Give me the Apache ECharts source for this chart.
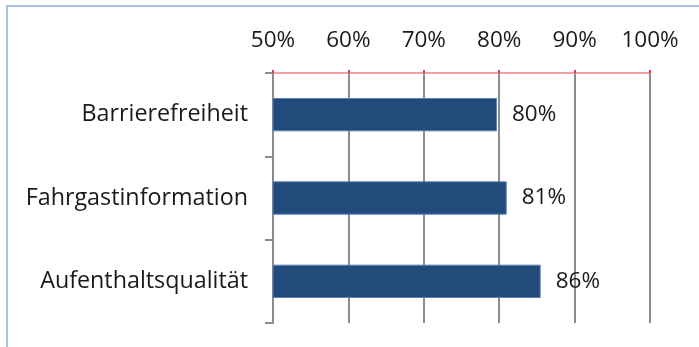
<!DOCTYPE html>
<html><head><meta charset="utf-8">
<script src="https://cdn.jsdelivr.net/npm/echarts@6/dist/echarts.min.js"></script>
<style>html,body{margin:0;padding:0;background:#fff}#c{width:699px;height:347px}</style>
</head><body><div id="c"></div>
<script>
const categories = ['Barrierefreiheit', 'Fahrgastinformation', 'Aufenthaltsqualität'];
const values = [79.7, 81.0, 85.5];
const valueLabels = ['80%', '81%', '86%'];
const xTicks = [50, 60, 70, 80, 90, 100];

const FONT = 'Open Sans';
const chart = echarts.init(document.getElementById('c'));
chart.setOption({
  animation: false,
  backgroundColor: '#fff',
  graphic: [{
    type: 'rect', silent: true,
    shape: { x: 7, y: 6, width: 760, height: 400 },
    style: { fill: 'none', stroke: '#a7bee6', lineWidth: 2 }
  }],
  grid: { left: 273, right: 49, top: 73, bottom: 24 },
  xAxis: {
    type: 'value', position: 'top',
    min: xTicks[0], max: xTicks[xTicks.length - 1], interval: 10,
    axisLine: { show: true, lineStyle: { color: '#e8848c', width: 1.5 } },
    axisTick: { show: true, length: 3, lineStyle: { color: '#ee3344', width: 2 } },
    axisLabel: { formatter: '{value}%', fontFamily: FONT, fontSize: 22.5, color: '#1a1a1a', margin: 21 },
    splitLine: { show: true, lineStyle: { color: '#8c8c8c', width: 2 } }
  },
  yAxis: {
    type: 'category', data: categories, inverse: true,
    axisLine: { show: true, lineStyle: { color: '#8c8c8c', width: 2 } },
    axisTick: { show: true, length: 8, inside: false, lineStyle: { color: '#8c8c8c', width: 2 } },
    axisLabel: { fontFamily: FONT, fontSize: 23.3, color: '#1a1a1a', margin: 25 }
  },
  series: [{
    type: 'bar', data: values, barCategoryGap: '60%',
    itemStyle: { color: '#224a7b', borderColor: '#5b80b2', borderWidth: 1 },
    label: {
      show: true, position: 'right', distance: 15,
      formatter: p => valueLabels[p.dataIndex],
      fontFamily: FONT, fontSize: 22.5, color: '#1a1a1a'
    }
  }]
});
</script></body></html>
